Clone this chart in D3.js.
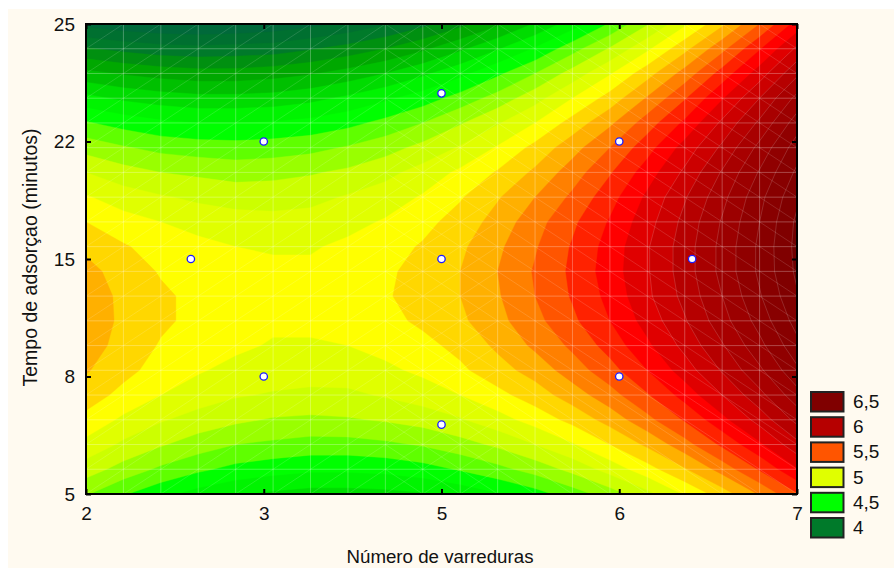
<!DOCTYPE html>
<html>
<head>
<meta charset="utf-8">
<script src="https://cdn.jsdelivr.net/npm/d3@7"></script>
<style>
  body { margin: 0; background: #fff; }
  text { font-family: "Liberation Sans", Arial, sans-serif; fill: #111; }
</style>
</head>
<body>
<div id="vis-container"></div>
<script>
// Tick labels (the axes are evenly spaced categories, not a numeric scale)
const xTickLabels = ["2", "3", "5", "6", "7"];
const yTickLabels = ["5", "8", "15", "22", "25"];

// Design points in tick-position units (0 = first tick)
const pointsX = [1, 2, 3, 0.59, 2, 3.41, 1, 2, 3];
const pointsY = [3, 3.41, 3, 2, 2, 2, 1, 0.59, 1];

// Surface, one row per mesh line, top row first
const surface = [
  [3.77,3.73,3.71,3.70,3.71,3.73,3.77,3.82,3.89,3.97,4.07,4.18,4.31,4.45,4.61,4.79,4.98,5.18,5.40,5.64],
  [4.01,3.97,3.94,3.93,3.94,3.95,3.99,4.04,4.10,4.18,4.28,4.39,4.51,4.66,4.81,4.98,5.17,5.37,5.59,5.82],
  [4.23,4.19,4.16,4.14,4.14,4.16,4.19,4.24,4.30,4.38,4.47,4.58,4.70,4.84,4.99,5.16,5.34,5.54,5.75,5.98],
  [4.43,4.38,4.35,4.33,4.33,4.34,4.37,4.42,4.48,4.55,4.64,4.74,4.86,5.00,5.14,5.31,5.49,5.69,5.90,6.13],
  [4.61,4.56,4.52,4.50,4.50,4.51,4.53,4.57,4.63,4.70,4.79,4.89,5.00,5.14,5.28,5.45,5.62,5.82,6.02,6.25],
  [4.76,4.71,4.67,4.65,4.64,4.65,4.67,4.71,4.76,4.83,4.91,5.01,5.13,5.26,5.40,5.56,5.74,5.92,6.13,6.35],
  [4.90,4.84,4.80,4.78,4.76,4.77,4.79,4.82,4.87,4.94,5.02,5.11,5.22,5.35,5.49,5.65,5.82,6.01,6.21,6.42],
  [5.01,4.95,4.91,4.88,4.86,4.86,4.87,4.91,4.95,5.01,5.09,5.19,5.30,5.42,5.56,5.72,5.89,6.07,6.27,6.48],
  [5.10,5.04,5.00,4.96,4.94,4.93,4.94,4.97,5.01,5.07,5.14,5.24,5.36,5.48,5.61,5.76,5.93,6.11,6.30,6.52],
  [5.18,5.11,5.06,5.03,5.00,4.99,4.99,5.02,5.06,5.11,5.18,5.28,5.39,5.51,5.64,5.79,5.95,6.13,6.32,6.53],
  [5.23,5.16,5.09,5.06,5.03,5.02,5.02,5.04,5.08,5.14,5.20,5.30,5.41,5.52,5.65,5.79,5.95,6.13,6.32,6.52],
  [5.25,5.18,5.12,5.07,5.05,5.03,5.03,5.05,5.09,5.14,5.20,5.29,5.40,5.51,5.63,5.78,5.93,6.10,6.29,6.49],
  [5.26,5.18,5.12,5.07,5.04,5.02,5.02,5.04,5.07,5.12,5.18,5.27,5.37,5.48,5.60,5.74,5.89,6.06,6.24,6.44],
  [5.24,5.17,5.09,5.05,5.02,4.99,4.99,5.00,5.03,5.07,5.13,5.22,5.32,5.42,5.54,5.68,5.83,5.99,6.17,6.37],
  [5.21,5.13,5.06,5.01,4.97,4.95,4.94,4.95,4.98,5.02,5.08,5.16,5.24,5.35,5.46,5.60,5.75,5.91,6.08,6.28],
  [5.15,5.07,5.00,4.95,4.91,4.89,4.88,4.88,4.91,4.95,5.00,5.07,5.15,5.25,5.36,5.49,5.64,5.80,5.97,6.16],
  [5.07,4.98,4.91,4.86,4.82,4.79,4.78,4.79,4.81,4.84,4.89,4.96,5.04,5.13,5.24,5.37,5.51,5.67,5.84,6.03],
  [4.97,4.88,4.81,4.75,4.70,4.68,4.66,4.66,4.68,4.71,4.76,4.82,4.90,4.99,5.10,5.22,5.36,5.52,5.68,5.87],
  [4.85,4.76,4.68,4.62,4.57,4.54,4.52,4.52,4.53,4.56,4.61,4.67,4.74,4.83,4.94,5.06,5.19,5.34,5.51,5.69],
  [4.71,4.61,4.53,4.46,4.41,4.38,4.36,4.36,4.37,4.39,4.43,4.49,4.56,4.65,4.75,4.87,5.01,5.15,5.31,5.49]
];

// Contour levels and the colour of the band above each one
const levels = [3.8,3.9,4.0,4.1,4.2,4.3,4.4,4.5,4.6,4.7,4.8,4.9,5.0,5.1,5.2,5.3,5.4,5.5,5.6,5.7,5.8,5.9,6.0,6.1,6.2,6.3,6.4,6.5];
const bandColors = ["#007030","#007a2a","#009010","#00a800","#00c000","#00dc00","#00f400","#00ff00","#5fff00","#99ff00","#ccff00","#e0ff00","#ffff00","#ffd700","#ffb000","#ff8000","#ff5500","#ff2200","#ff0000","#e00000","#cc0000","#b60000","#a80000","#9c0000","#900000","#880000","#800000","#700000"];
const belowColor = "#00693a";

const legendLabels = ["6,5", "6", "5,5", "5", "4,5", "4"];
const legendColors = ["#800000", "#b60000", "#ff5500", "#e0ff00", "#00ff00", "#007a2a"];

const width = 894;
const height = 568;
const plot = { left: 86, right: 797, top: 24, bottom: 494 };

const svg = d3.select('#vis-container')
  .append('svg')
  .attr('width', width)
  .attr('height', height)
  .style('display', 'block');

// cream page, leaves a thin white strip top and left
svg.append('rect')
  .attr('x', 8).attr('y', 9)
  .attr('width', width - 8).attr('height', height - 9)
  .attr('fill', '#fffaf0');

const x = d3.scaleLinear().domain([0, xTickLabels.length - 1]).range([plot.left, plot.right]);
const y = d3.scaleLinear().domain([0, yTickLabels.length - 1]).range([plot.bottom, plot.top]);

const rows = surface.length;
const cols = surface[0].length;

// d3.contours puts a grid value at index + 0.5
const gridX = d3.scaleLinear().domain([0.5, cols - 0.5]).range([plot.left, plot.right]);
const gridY = d3.scaleLinear().domain([0.5, rows - 0.5]).range([plot.top, plot.bottom]);
const path = d3.geoPath(d3.geoTransform({
  point(px, py) { this.stream.point(gridX(px), gridY(py)); }
}));

svg.append('clipPath').attr('id', 'plot-clip')
  .append('rect')
  .attr('x', plot.left).attr('y', plot.top)
  .attr('width', plot.right - plot.left).attr('height', plot.bottom - plot.top);

const plotArea = svg.append('g').attr('clip-path', 'url(#plot-clip)');

plotArea.append('rect')
  .attr('x', plot.left).attr('y', plot.top)
  .attr('width', plot.right - plot.left).attr('height', plot.bottom - plot.top)
  .attr('fill', belowColor);

const contours = d3.contours()
  .size([cols, rows])
  .thresholds(levels)(surface.flat());

// same-colour stroke closes the hairline gaps between bands
plotArea.append('g')
  .selectAll('path')
  .data(contours)
  .enter()
  .append('path')
  .attr('d', path)
  .attr('fill', (d, i) => bandColors[i])
  .attr('stroke', (d, i) => bandColors[i])
  .attr('stroke-width', 0.4);

// faint seams of the mesh
const mesh = plotArea.append('g')
  .attr('fill', 'none')
  .attr('stroke', '#fff');

d3.range(cols).forEach(i => {
  mesh.append('line')
    .attr('x1', gridX(i + 0.5)).attr('x2', gridX(i + 0.5))
    .attr('y1', plot.top).attr('y2', plot.bottom)
    .attr('stroke-opacity', 0.28);
});
d3.range(rows).forEach(j => {
  mesh.append('line')
    .attr('x1', plot.left).attr('x2', plot.right)
    .attr('y1', gridY(j + 0.5)).attr('y2', gridY(j + 0.5))
    .attr('stroke-opacity', 0.28);
});
d3.range(cols - 1).forEach(i => {
  d3.range(rows - 1).forEach(j => {
    if (i < 11) {
      mesh.append('line')
        .attr('x1', gridX(i + 0.5)).attr('y1', gridY(j + 1.5))
        .attr('x2', gridX(i + 1.5)).attr('y2', gridY(j + 0.5))
        .attr('stroke-opacity', 0.2).attr('stroke-width', 0.7);
    }
    if (i >= 8) {
      mesh.append('line')
        .attr('x1', gridX(i + 0.5)).attr('y1', gridY(j + 0.5))
        .attr('x2', gridX(i + 1.5)).attr('y2', gridY(j + 1.5))
        .attr('stroke-opacity', 0.2).attr('stroke-width', 0.7);
    }
  });
});

// contour edges show up on the dark reds
plotArea.append('g')
  .selectAll('path')
  .data(contours.filter(d => d.value >= 5.8))
  .enter()
  .append('path')
  .attr('d', path)
  .attr('fill', 'none')
  .attr('stroke', '#fff')
  .attr('stroke-opacity', 0.2)
  .attr('stroke-width', 0.8);

// design points
svg.append('g')
  .selectAll('circle')
  .data(d3.range(pointsX.length))
  .enter()
  .append('circle')
  .attr('cx', i => x(pointsX[i]))
  .attr('cy', i => y(pointsY[i]))
  .attr('r', 3.7)
  .attr('fill', '#fff')
  .attr('stroke', '#1a1aff')
  .attr('stroke-width', 1.3);

// axes, ticks point inwards on all four sides
const xTicks = d3.range(xTickLabels.length);
const yTicks = d3.range(yTickLabels.length);

function styleAxis(g) {
  g.select('.domain').remove();
  g.selectAll('line').attr('stroke', '#000').attr('stroke-width', 2);
  g.selectAll('text').style('font-size', '19px').attr('fill', '#111');
}

svg.append('g')
  .attr('transform', `translate(0,${plot.bottom})`)
  .call(d3.axisBottom(x).tickValues(xTicks).tickSize(-5).tickPadding(12.5).tickFormat(i => xTickLabels[i]))
  .call(styleAxis);

svg.append('g')
  .attr('transform', `translate(0,${plot.top})`)
  .call(d3.axisTop(x).tickValues(xTicks).tickSize(-5).tickFormat(''))
  .call(styleAxis);

svg.append('g')
  .attr('transform', `translate(${plot.left},0)`)
  .call(d3.axisLeft(y).tickValues(yTicks).tickSize(-5).tickPadding(11).tickFormat(i => yTickLabels[i]))
  .call(styleAxis);

svg.append('g')
  .attr('transform', `translate(${plot.right},0)`)
  .call(d3.axisRight(y).tickValues(yTicks).tickSize(-5).tickFormat(''))
  .call(styleAxis);

svg.append('rect')
  .attr('x', plot.left).attr('y', plot.top)
  .attr('width', plot.right - plot.left).attr('height', plot.bottom - plot.top)
  .attr('fill', 'none')
  .attr('stroke', '#000')
  .attr('stroke-width', 2);

svg.append('text')
  .attr('x', 440).attr('y', 563)
  .attr('text-anchor', 'middle')
  .style('font-size', '18.7px')
  .text('Número de varreduras');

svg.append('text')
  .attr('transform', 'translate(37,257.5) rotate(-90)')
  .attr('text-anchor', 'middle')
  .style('font-size', '19.5px')
  .text('Tempo de adsorçao (minutos)');

// legend
const legend = svg.append('g')
  .selectAll('g')
  .data(legendLabels)
  .enter()
  .append('g')
  .attr('transform', (d, i) => `translate(811,${392 + i * 25.2})`);

legend.append('rect')
  .attr('width', 32.5).attr('height', 19.5)
  .attr('fill', (d, i) => legendColors[i])
  .attr('stroke', '#222')
  .attr('stroke-width', 2);

legend.append('text')
  .attr('x', 42).attr('y', 16)
  .style('font-size', '19px')
  .text(d => d);
</script>
</body>
</html>
